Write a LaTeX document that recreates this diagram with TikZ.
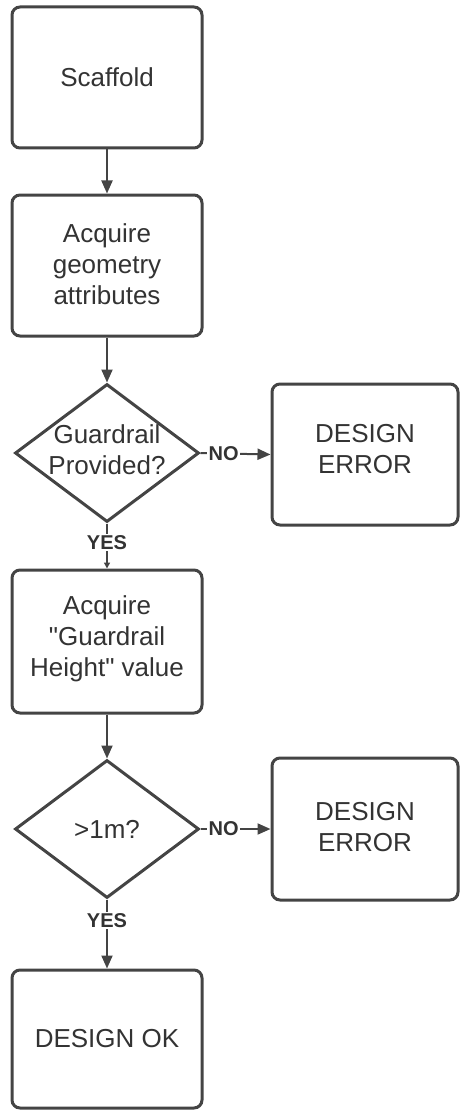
\documentclass[tikz,border=0pt]{standalone}
\usepackage{fontspec}
\setmainfont{Liberation Sans}[Ligatures=TeXOff]
\usetikzlibrary{shapes.geometric,arrows.meta}
\definecolor{ink}{HTML}{333333}
\definecolor{edge}{HTML}{444444}
\tikzset{
  stepbox/.style={draw=edge, line width=3pt, rounded corners=8pt, fill=white,
    minimum width=190pt, minimum height=141pt, inner sep=0pt},
  decision/.style={draw=edge, line width=3pt, diamond, fill=white,
    minimum width=184pt, minimum height=138pt, inner sep=0pt},
  txt/.style={text=ink, align=center, font=\fontsize{26}{31}\selectfont, inner sep=0pt},
  flow/.style={draw=edge, line width=2pt, -{Triangle[length=13pt, width=11pt]}},
  tag/.style={fill=white, text=ink, font=\bfseries\fontsize{20}{22}\selectfont, inner sep=1.5pt}
}
\begin{document}
\begin{tikzpicture}[x=1pt, y=-1pt]
\useasboundingbox (0,0) rectangle (460,1110);

% main column
\node[stepbox] (scaffold) at (107,77.5) {};
\node[txt] at (scaffold) {Scaffold};

\node[stepbox] (geom) at (107,265.5) {};
\node[txt] at (107,264) {Acquire\\geometry\\attributes};

\node[decision] (guard) at (107,453) {};
\node[txt] at (107,450) {Guardrail\\Provided?};

\node[stepbox, minimum height=143pt] (height) at (107,641.5) {};
\node[txt] at (107,639) {Acquire\\"Guardrail\\Height" value};

\node[decision] (check) at (107,829) {};
\node[txt] at (107,829) {>1m?};

\node[stepbox, minimum height=138pt] (ok) at (107,1039) {};
\node[txt] at (107,1039) {DESIGN OK};

% error branches
\node[stepbox, minimum width=186pt] (err1) at (365,454.5) {};
\node[txt] at (365,449) {DESIGN\\ERROR};

\node[stepbox, minimum width=186pt, minimum height=142pt] (err2) at (365,829) {};
\node[txt] at (365,827) {DESIGN\\ERROR};

% connectors
\draw[flow] (scaffold.south) -- (geom.north);
\draw[flow] (geom.south) -- (guard.north);
\draw[flow] (guard.east) -- node[tag, pos=0.33] {NO} (err1.west);
\draw[draw=edge, line width=2pt, -{Triangle[length=6pt, width=6pt]}]
  (guard.south) -- node[tag, pos=0.42] {YES} (height.north);
\draw[flow] (height.south) -- (check.north);
\draw[flow] (check.east) -- node[tag, pos=0.33] {NO} (err2.west);
\draw[flow] (check.south) -- node[tag, pos=0.3] {YES} (ok.north);
\end{tikzpicture}
\end{document}
